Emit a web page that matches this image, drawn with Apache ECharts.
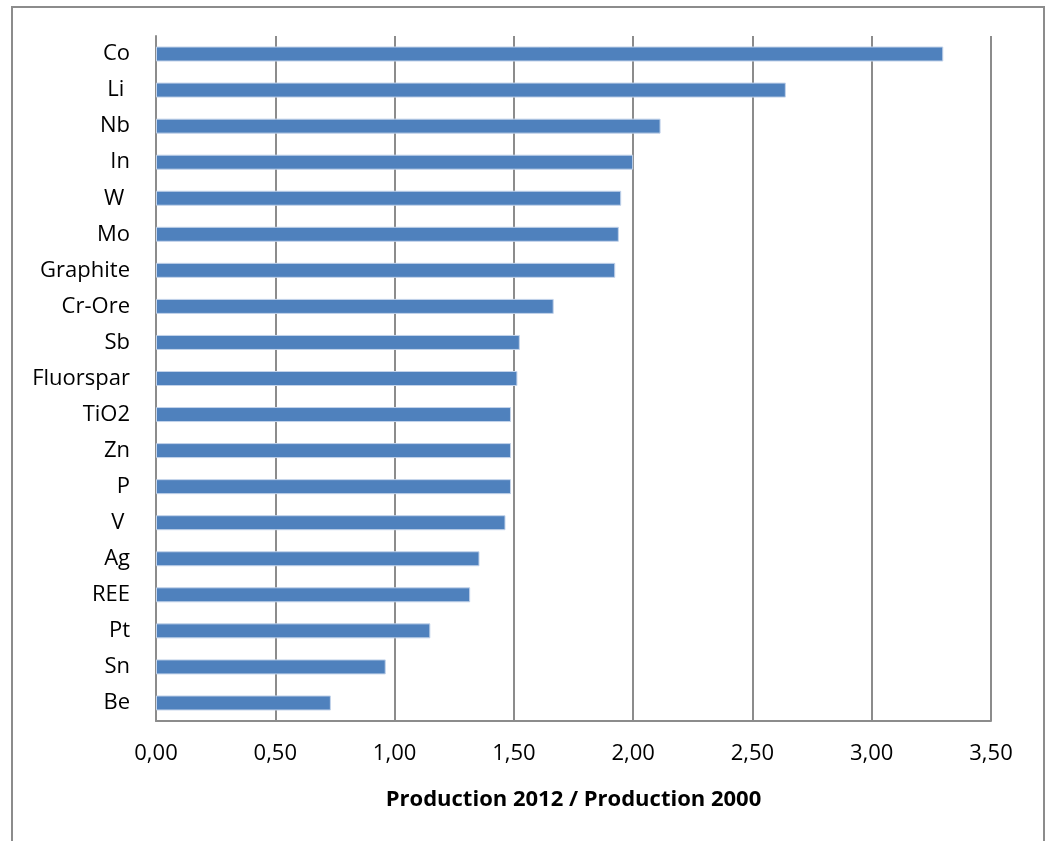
<!DOCTYPE html>
<html>
<head>
<meta charset="utf-8">
<script src="https://cdn.jsdelivr.net/npm/echarts@6/dist/echarts.min.js"></script>
<style>
html,body{margin:0;padding:0;background:#fff;}
#chart{width:1047px;height:841px;}
</style>
</head>
<body>
<div id="chart"></div>
<script>
var categories = ['Co','Li ','Nb','In','W ','Mo','Graphite','Cr-Ore','Sb','Fluorspar','TiO2','Zn','P','V ','Ag','REE','Pt','Sn','Be'];
var ratios = [3.30,2.64,2.115,2.00,1.95,1.94,1.925,1.667,1.525,1.515,1.488,1.488,1.488,1.465,1.356,1.317,1.15,0.963,0.733];
var xTicks = {min:0, max:3.5, interval:0.5};
var xTitle = 'Production 2012 / Production 2000';

var chart = echarts.init(document.getElementById('chart'));
var font = '"Open Sans", sans-serif';
chart.setOption({
  animation:false,
  backgroundColor:'#ffffff',
  graphic:[{
    type:'rect',
    shape:{x:12,y:7,width:1032,height:850},
    style:{fill:'none',stroke:'#8c8c8c',lineWidth:2},
    silent:true
  }],
  grid:{left:156,right:56,top:36,bottom:120,containLabel:false},
  xAxis:{
    type:'value',
    min:xTicks.min, max:xTicks.max, interval:xTicks.interval,
    name:xTitle,
    nameLocation:'middle',
    nameGap:68,
    nameTextStyle:{fontFamily:font,fontSize:22,fontWeight:'bold',color:'#000'},
    axisLine:{show:true,lineStyle:{color:'#8c8c8c',width:2}},
    axisTick:{show:false},
    axisLabel:{margin:22,fontFamily:font,fontSize:22,color:'#000',
      formatter:function(v){return v.toFixed(2).replace('.',',');}},
    splitLine:{show:true,lineStyle:{color:'#8c8c8c',width:2}}
  },
  yAxis:{
    type:'category',
    data:categories,
    inverse:true,
    axisLine:{show:true,lineStyle:{color:'#8c8c8c',width:2}},
    axisTick:{show:false},
    axisLabel:{margin:26,fontFamily:font,fontSize:22,color:'#000'},
    splitLine:{show:false}
  },
  series:[{
    type:'bar',
    data:ratios,
    barWidth:15,
    itemStyle:{color:'#4f81bd',borderColor:'#c3d3ea',borderWidth:1}
  }]
});
</script>
</body>
</html>
